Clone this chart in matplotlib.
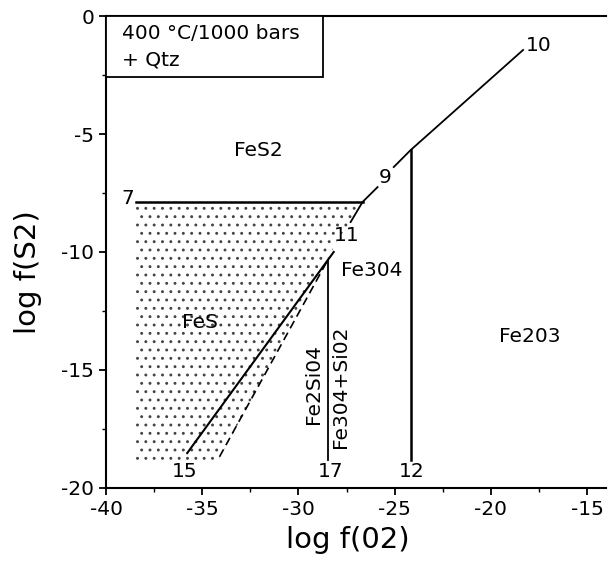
import numpy as np
import matplotlib.pyplot as plt
from matplotlib.patches import Polygon, Rectangle
from matplotlib.ticker import MultipleLocator

# ======================================================================
#    Boundary lines (log fO2, log fS2)
# ======================================================================
line_7_x = [-38.45, -26.67]
line_7_y = [-7.88, -7.88]

curve_11_9_x = [-27.29, -26.67, -25.89]
curve_11_9_y = [-8.73, -7.88, -7.25]

line_9_10_x = [-25.05, -24.17, -18.33]
line_9_10_y = [-6.40, -5.68, -1.44]

line_11_15_x = [-28.17, -35.78]
line_11_15_y = [-10.0, -18.52]

dashed_x = [-28.55, -34.22]
dashed_y = [-10.45, -18.85]

line_17_x = [-28.45, -28.45]
line_17_y = [-10.35, -18.8]

line_12_x = [-24.17, -24.17]
line_12_y = [-5.68, -18.8]

# stippled FeS field
fes_x = [-38.45, -26.67, -27.29, -28.0, -28.55, -34.22, -38.45]
fes_y = [-7.88, -7.88, -8.73, -9.5, -10.45, -18.9, -18.9]

# labels
field_names = ['FeS2', 'FeS', 'Fe304', 'Fe203']
field_x = [-32.1, -35.1, -26.2, -18.0]
field_y = [-5.72, -12.97, -10.8, -13.6]

point_names = ['7', '9', '10', '11', '15', '17', '12']
point_x = [-38.85, -25.5, -17.5, -27.5, -35.9, -28.35, -24.1]
point_y = [-7.75, -6.85, -1.23, -9.3, -19.3, -19.3, -19.3]

plt.rcParams['font.family'] = ['DejaVu Sans']
plt.rcParams['axes.unicode_minus'] = False
plt.rcParams['hatch.linewidth'] = 0.9

fig = plt.figure(figsize=(6.1, 5.7), dpi=100)
ax = fig.add_axes([0.1738, 0.1439, 0.8203, 0.828])

ax.add_patch(Polygon(np.column_stack([fes_x, fes_y]), closed=True,
                     facecolor='none', edgecolor='#444444', hatch='..',
                     linewidth=0))

ax.plot(line_7_x, line_7_y, color='black', lw=1.8)
ax.plot(curve_11_9_x, curve_11_9_y, color='black', lw=1.3)
ax.plot(line_9_10_x, line_9_10_y, color='black', lw=1.3)
ax.plot(line_11_15_x, line_11_15_y, color='black', lw=1.5)
ax.plot(dashed_x, dashed_y, color='black', lw=1.2, ls=(0, (5, 3)))
ax.plot(line_17_x, line_17_y, color='black', lw=1.3)
ax.plot(line_12_x, line_12_y, color='black', lw=1.8)

fs = 14.5
for name, x, y in zip(field_names, field_x, field_y):
    ax.text(x, y, name, fontsize=fs, ha='center', va='center')
for name, x, y in zip(point_names, point_x, point_y):
    ax.text(x, y, name, fontsize=fs, ha='center', va='center')

ax.text(-29.22, -15.6, 'Fe2Si04', fontsize=fs, rotation=90, ha='center', va='center')
ax.text(-27.81, -15.7, 'Fe304+Si02', fontsize=fs, rotation=90, ha='center', va='center')

# condition box
ax.add_patch(Rectangle((-40, -2.58), 11.25, 2.58, facecolor='white',
                       edgecolor='black', lw=1.3, zorder=3))
ax.text(-39.15, -0.75, '400 °C/1000 bars', fontsize=fs, va='center', zorder=4)
ax.text(-39.15, -1.85, '+ Qtz', fontsize=fs, va='center', zorder=4)

ax.set_xlim(-40, -14)
ax.set_ylim(-20, 0)
ax.xaxis.set_major_locator(MultipleLocator(5))
ax.xaxis.set_minor_locator(MultipleLocator(2.5))
ax.yaxis.set_major_locator(MultipleLocator(5))
ax.yaxis.set_minor_locator(MultipleLocator(2.5))
ax.tick_params(which='major', direction='out', length=5, width=1.3, labelsize=14.5)
ax.tick_params(which='minor', direction='out', length=3, width=1.0)
ax.spines['right'].set_visible(False)
for s in ['left', 'bottom', 'top']:
    ax.spines[s].set_linewidth(1.5)

ax.set_xlabel('log f(02)', fontsize=21)
ax.set_ylabel('log f(S2)', fontsize=21)
ax.xaxis.set_label_coords(0.483, -0.08)
ax.yaxis.set_label_coords(-0.128, 0.458)

fig.savefig('out.png', dpi=100)
